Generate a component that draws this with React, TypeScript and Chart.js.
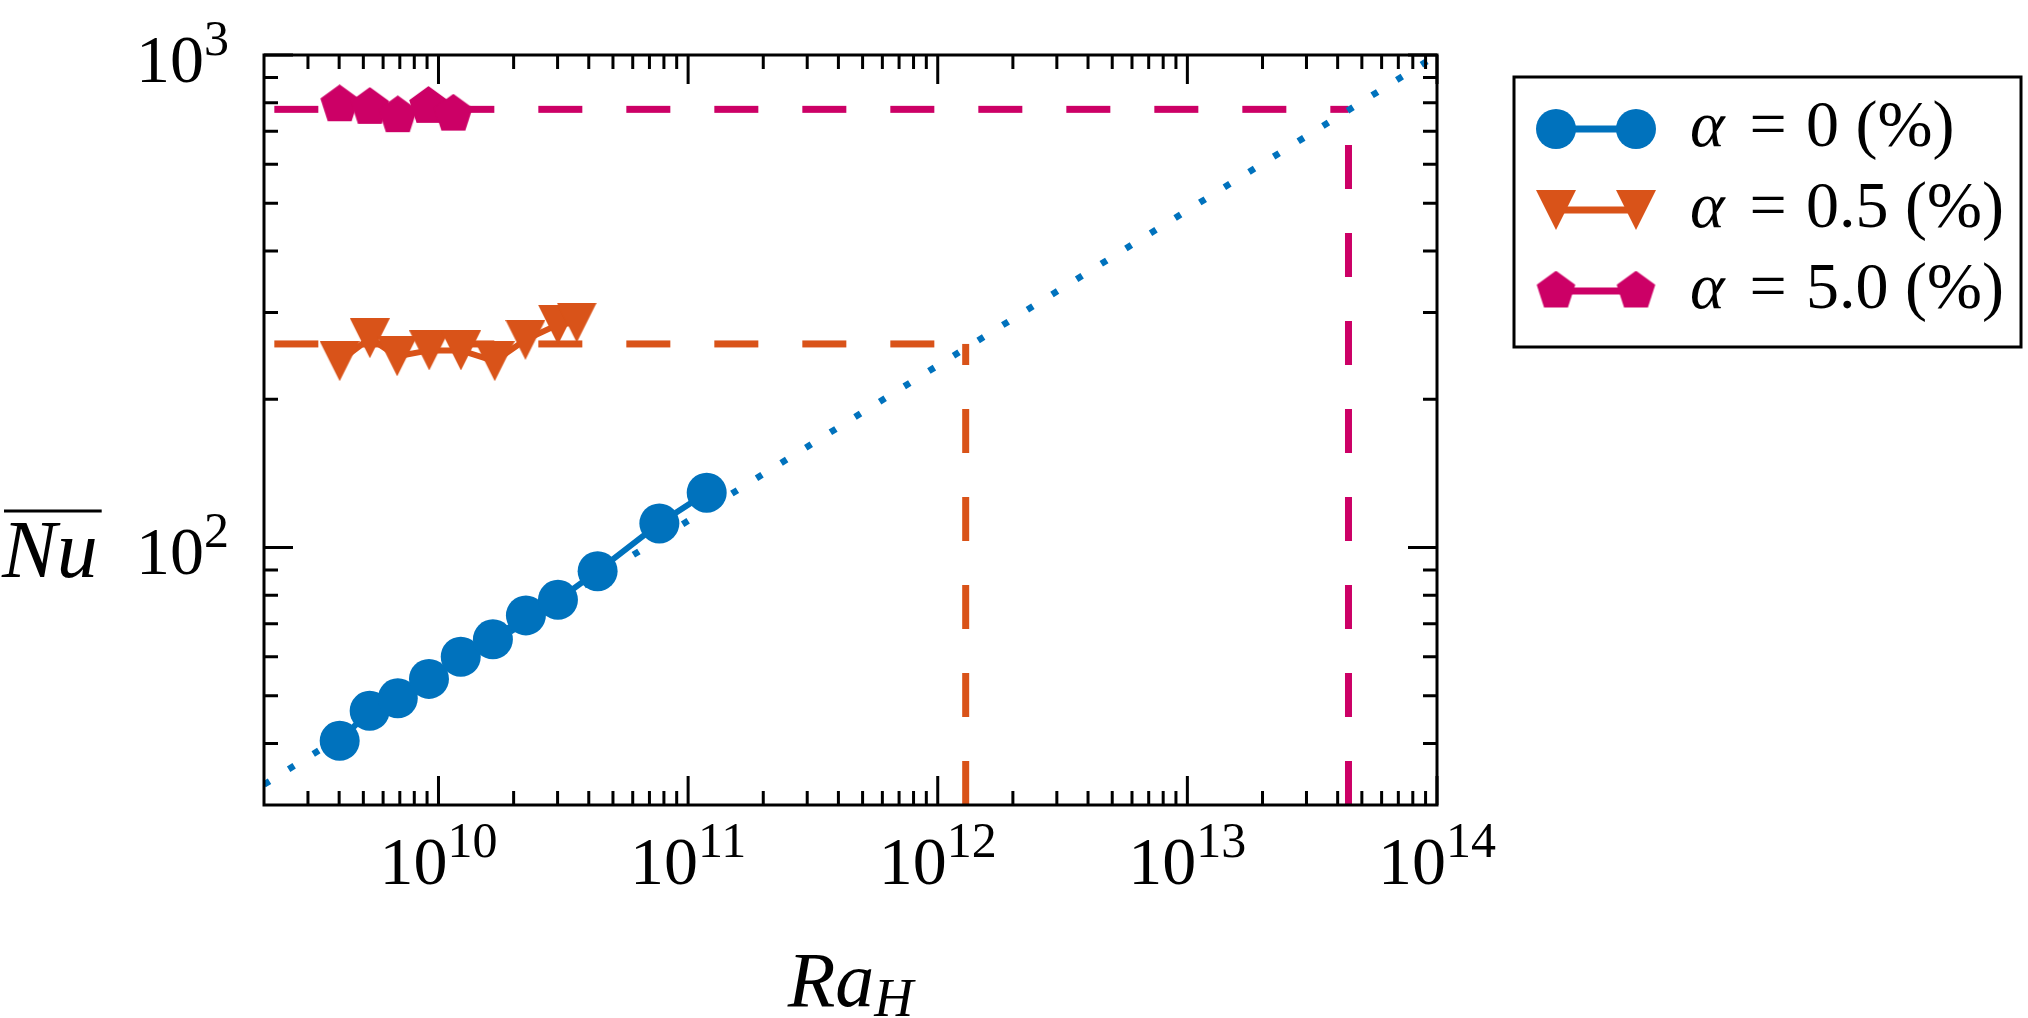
import { useEffect, useRef } from "react";
import { Chart, registerables } from "chart.js";

Chart.register(...registerables);

// alpha = 0 %
const raAlpha0 = [4.02e9, 5.3e9, 6.87e9, 9.16e9, 1.228e10, 1.652e10, 2.24e10, 3.01e10, 4.34e10, 7.67e10, 1.187e11];
const nuAlpha0 = [40.5, 46.6, 49.4, 54.1, 60.0, 65.1, 72.8, 78.3, 89.5, 111.9, 129.2];

// alpha = 0.5 %
const raAlpha05 = [4.02e9, 5.31e9, 6.83e9, 9.18e9, 1.23e10, 1.68e10, 2.23e10, 3.01e10, 3.58e10];
const nuAlpha05 = [239, 266, 244.5, 251.3, 251.3, 239, 264, 283.5, 286.3];

// alpha = 5.0 %
const raAlpha5 = [4.02e9, 5.31e9, 6.87e9, 9.12e9, 1.147e10];
const nuAlpha5 = [792.5, 783, 753, 786.6, 758.5];

// power-law fit (dotted)
const fitRa = [2e9, 1e14];
const fitNu = [33, 1000];

// mean levels and where they meet the fit
const meanStartRa = 2.2e9;
const crossRa = [1.294e12, 4.42e13];
const meanNu = [259, 775.6];
const floorNu = 30;

const xTickExp = [10, 11, 12, 13, 14];
const yTickExp = [2, 3];
const minorMult = [2, 3, 4, 5, 6, 7, 8, 9];

const legendValues = ["0", "0.5", "5.0"];

const BLUE = "#0072BD";
const ORANGE = "#D95319";
const MAGENTA = "#CC0066";
const FONT = '"Liberation Serif"';

function makeTriangle(color: string, w: number, h: number) {
  const c = document.createElement("canvas");
  c.width = w;
  c.height = h;
  const ctx = c.getContext("2d")!;
  ctx.fillStyle = color;
  ctx.beginPath();
  ctx.moveTo(0, 0);
  ctx.lineTo(w, 0);
  ctx.lineTo(w / 2, h);
  ctx.closePath();
  ctx.fill();
  return c;
}

function makePentagon(color: string, r: number) {
  const size = Math.ceil(r * 2);
  const c = document.createElement("canvas");
  c.width = size;
  c.height = size;
  const ctx = c.getContext("2d")!;
  ctx.fillStyle = color;
  ctx.beginPath();
  for (let k = 0; k < 5; k++) {
    const a = -Math.PI / 2 + (k * 2 * Math.PI) / 5;
    const px = size / 2 + r * Math.cos(a);
    const py = size / 2 + r * Math.sin(a);
    if (k === 0) ctx.moveTo(px, py);
    else ctx.lineTo(px, py);
  }
  ctx.closePath();
  ctx.fill();
  return c;
}

const pts = (xs: number[], ys: number[]) => xs.map((x, i) => ({ x, y: ys[i] }));

export default function App() {
  const canvasRef = useRef<HTMLCanvasElement | null>(null);

  useEffect(() => {
    if (!canvasRef.current) return;
    const tri = makeTriangle(ORANGE, 40, 40);
    const pent = makePentagon(MAGENTA, 20.3);

    const drawPow = (ctx: CanvasRenderingContext2D, exp: number, x: number, y: number, align: "center" | "right") => {
      const base = "10";
      const sup = String(exp);
      ctx.font = `68px ${FONT}`;
      const wb = ctx.measureText(base).width;
      ctx.font = `50px ${FONT}`;
      const ws = ctx.measureText(sup).width;
      const total = wb + ws;
      const left = align === "center" ? x - total / 2 : x - total;
      ctx.textAlign = "left";
      ctx.textBaseline = "alphabetic";
      ctx.font = `68px ${FONT}`;
      ctx.fillText(base, left, y);
      ctx.font = `50px ${FONT}`;
      ctx.fillText(sup, left + wb, y - 27);
    };

    const framePlugin = {
      id: "frame",
      afterDraw(chart: Chart) {
        const { ctx, chartArea: a } = chart;
        const xs = chart.scales.x;
        const ys = chart.scales.y;
        ctx.save();
        ctx.strokeStyle = "#000";
        ctx.fillStyle = "#000";
        ctx.lineWidth = 3;
        ctx.strokeRect(a.left, a.top, a.right - a.left, a.bottom - a.top);

        const xMin = xs.min, xMax = xs.max, yMin = ys.min, yMax = ys.max;
        const xTick = (v: number, len: number) => {
          const px = xs.getPixelForValue(v);
          ctx.beginPath();
          ctx.moveTo(px, a.bottom);
          ctx.lineTo(px, a.bottom - len);
          ctx.moveTo(px, a.top);
          ctx.lineTo(px, a.top + len);
          ctx.stroke();
        };
        const yTick = (v: number, len: number) => {
          const py = ys.getPixelForValue(v);
          ctx.beginPath();
          ctx.moveTo(a.left, py);
          ctx.lineTo(a.left + len, py);
          ctx.moveTo(a.right, py);
          ctx.lineTo(a.right - len, py);
          ctx.stroke();
        };
        for (let e = 9; e <= 14; e++) {
          for (const m of minorMult) {
            const v = m * Math.pow(10, e);
            if (v > xMin * 1.001 && v < xMax * 0.999) xTick(v, 14);
          }
        }
        for (let e = 1; e <= 3; e++) {
          for (const m of minorMult) {
            const v = m * Math.pow(10, e);
            if (v > yMin * 1.001 && v < yMax * 0.999) yTick(v, 14);
          }
        }
        xTickExp.forEach((e) => xTick(Math.pow(10, e), 29));
        yTickExp.forEach((e) => yTick(Math.pow(10, e), 29));

        xTickExp.forEach((e) => drawPow(ctx, e, xs.getPixelForValue(Math.pow(10, e)), 884, "center"));
        yTickExp.forEach((e) => drawPow(ctx, e, 229, ys.getPixelForValue(Math.pow(10, e)) + 27, "right"));

        // x title Ra_H
        ctx.textBaseline = "alphabetic";
        ctx.textAlign = "left";
        ctx.font = `italic 78px ${FONT}`;
        const wRa = ctx.measureText("Ra").width;
        ctx.font = `italic 54px ${FONT}`;
        const wH = ctx.measureText("H").width;
        const cx = (a.left + a.right) / 2;
        const tx = cx - (wRa + wH) / 2;
        ctx.font = `italic 78px ${FONT}`;
        ctx.fillText("Ra", tx, 1006);
        ctx.font = `italic 54px ${FONT}`;
        ctx.fillText("H", tx + wRa, 1016);

        // y title overline Nu
        ctx.font = `italic 82px ${FONT}`;
        const wNu = ctx.measureText("Nu").width;
        const ny = 577;
        ctx.fillText("Nu", 2, ny);
        ctx.lineWidth = 3;
        ctx.beginPath();
        ctx.moveTo(4, ny - 66);
        ctx.lineTo(2 + wNu + 4, ny - 66);
        ctx.stroke();

        // legend
        const bx = 1514, by = 77, bw = 507, bh = 270;
        ctx.fillStyle = "#fff";
        ctx.fillRect(bx, by, bw, bh);
        ctx.strokeStyle = "#000";
        ctx.lineWidth = 3;
        ctx.strokeRect(bx, by, bw, bh);
        const colors = [BLUE, ORANGE, MAGENTA];
        const rowY = [129, 210, 291];
        const mx1 = 1556, mx2 = 1636;
        legendValues.forEach((val, i) => {
          const y = rowY[i];
          ctx.strokeStyle = colors[i];
          ctx.lineWidth = 7;
          ctx.beginPath();
          ctx.moveTo(mx1, y);
          ctx.lineTo(mx2, y);
          ctx.stroke();
          for (const mx of [mx1, mx2]) {
            if (i === 0) {
              ctx.fillStyle = BLUE;
              ctx.beginPath();
              ctx.arc(mx, y, 20, 0, Math.PI * 2);
              ctx.fill();
            } else {
              const img = i === 1 ? tri : pent;
              ctx.drawImage(img, mx - img.width / 2, y - img.height / 2);
            }
          }
          const base = y + 17;
          ctx.fillStyle = "#000";
          ctx.textAlign = "left";
          ctx.font = `italic 66px ${FONT}`;
          ctx.fillText("α", 1690, base);
          ctx.font = `66px ${FONT}`;
          ctx.textAlign = "center";
          ctx.fillText("=", 1768, base);
          ctx.textAlign = "left";
          ctx.fillText(`${val} (%)`, 1806, base);
        });
        ctx.restore();
      },
    };

    const chart = new Chart(canvasRef.current, {
      type: "scatter",
      data: {
        datasets: [
          {
            label: "alpha0",
            data: pts(raAlpha0, nuAlpha0),
            showLine: true,
            borderColor: BLUE,
            backgroundColor: BLUE,
            borderWidth: 6,
            pointRadius: 20,
            pointBorderWidth: 0,
            pointStyle: "circle",
          },
          {
            label: "alpha05",
            data: pts(raAlpha05, nuAlpha05),
            showLine: true,
            borderColor: ORANGE,
            backgroundColor: ORANGE,
            borderWidth: 6,
            pointRadius: 20,
            pointStyle: tri,
          },
          {
            label: "alpha5",
            data: pts(raAlpha5, nuAlpha5),
            showLine: true,
            borderColor: MAGENTA,
            backgroundColor: MAGENTA,
            borderWidth: 6,
            pointRadius: 20,
            pointStyle: pent,
          },
          {
            label: "fit",
            data: pts(fitRa, fitNu),
            showLine: true,
            borderColor: BLUE,
            borderWidth: 6.5,
            borderDash: [6.5, 22.5],
            pointRadius: 0,
          },
          ...crossRa.flatMap((cr, i) => [
            {
              label: `meanH${i}`,
              data: [{ x: meanStartRa, y: meanNu[i] }, { x: cr, y: meanNu[i] }],
              showLine: true,
              borderColor: i === 0 ? ORANGE : MAGENTA,
              borderWidth: 7,
              borderDash: [44, 44],
              pointRadius: 0,
            },
            {
              label: `meanV${i}`,
              data: [{ x: cr, y: floorNu }, { x: cr, y: meanNu[i] }],
              showLine: true,
              borderColor: i === 0 ? ORANGE : MAGENTA,
              borderWidth: 7,
              borderDash: [44, 44],
              pointRadius: 0,
            },
          ]),
        ],
      },
      options: {
        responsive: false,
        animation: false,
        devicePixelRatio: 1,
        layout: { padding: { left: 256, right: 591, top: 55, bottom: 205 } },
        plugins: { legend: { display: false }, tooltip: { enabled: false } },
        scales: {
          x: {
            type: "logarithmic",
            min: 2e9,
            max: 1e14,
            grid: { display: false },
            border: { display: false },
            ticks: { display: false },
          },
          y: {
            type: "logarithmic",
            min: 30,
            max: 1000,
            grid: { display: false },
            border: { display: false },
            ticks: { display: false },
          },
        },
      },
      plugins: [framePlugin],
    });

    return () => chart.destroy();
  }, []);

  return (
    <div style={{ position: "fixed", left: 0, top: 0, width: 2028, height: 1018, background: "#fff" }}>
      <canvas ref={canvasRef} width={2028} height={1018} style={{ width: 2028, height: 1018, display: "block" }} />
    </div>
  );
}
